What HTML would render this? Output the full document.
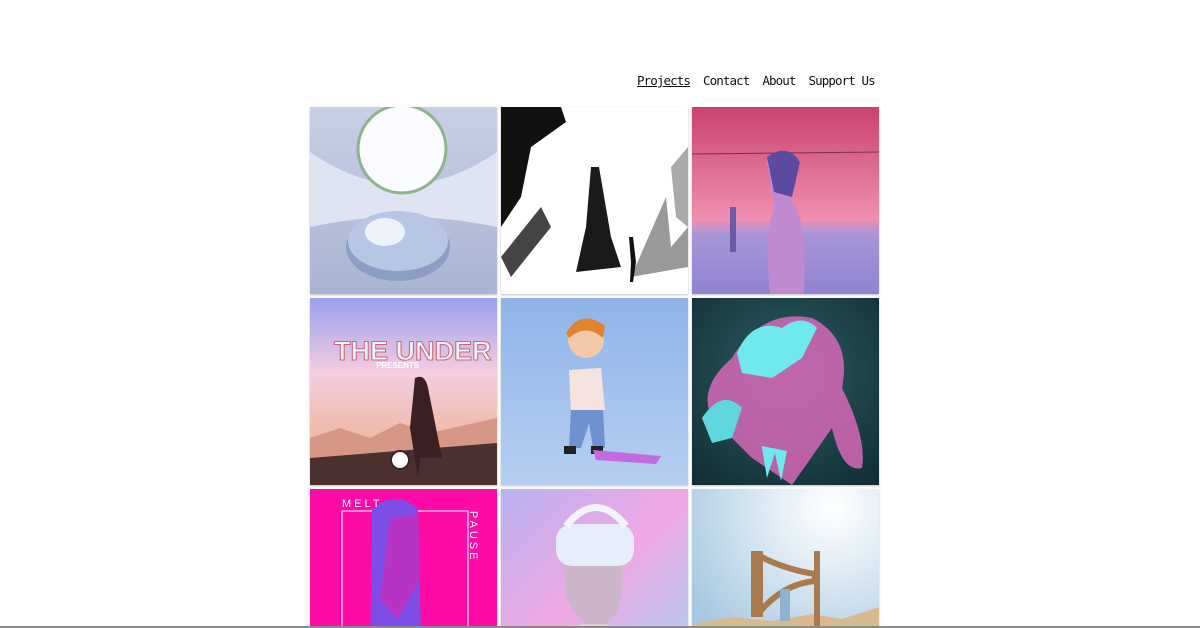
<!DOCTYPE html>
<html><head><meta charset="utf-8"><style>
html,body{margin:0;padding:0;background:#fff;width:1200px;height:628px;overflow:hidden;position:relative}
nav{position:absolute;top:73px;left:637px;font-family:"DejaVu Sans Mono","Liberation Mono",monospace;font-size:12.5px;letter-spacing:-0.9px;line-height:16px;color:#111;white-space:nowrap}
nav a{color:#111;text-decoration:none;margin-right:13px}
nav a.cur{text-decoration:underline}
.t{position:absolute;width:187px;height:187px;overflow:hidden;box-shadow:0 1px 2px rgba(0,0,0,.25)}
.t svg{display:block;width:187px;height:187px}
.bl{position:absolute;left:0;top:626px;width:1200px;height:2px;background:#8a8a8a}
</style></head><body>
<nav><a class="cur">Projects</a><a>Contact</a><a>About</a><a>Support Us</a></nav>

<div class="t" style="left:310px;top:107px"><svg viewBox="0 0 187 187">
<defs><linearGradient id="g1" x1="0" y1="0" x2="0" y2="1"><stop offset="0" stop-color="#c8d0e6"/><stop offset="1" stop-color="#a9b4d2"/></linearGradient></defs>
<rect width="187" height="187" fill="url(#g1)"/>
<path d="M0 45 Q93 110 187 45 L187 120 Q93 100 0 120Z" fill="#dfe4f2"/>
<circle cx="92" cy="42" r="44" fill="#fafcff" stroke="#8fb38a" stroke-width="3"/>
<ellipse cx="88" cy="140" rx="52" ry="34" fill="#8e9dc3"/><ellipse cx="88" cy="134" rx="50" ry="30" fill="#b8c6e6"/>
<ellipse cx="75" cy="125" rx="20" ry="14" fill="#eef2fb"/>
</svg></div>

<div class="t" style="left:501px;top:107px"><svg viewBox="0 0 187 187">
<rect width="187" height="187" fill="#fff"/>
<path d="M0 0 L60 0 L65 15 L30 40 L20 90 L0 120Z" fill="#111"/>
<path d="M90 60 L98 60 L110 130 L120 160 L75 165 L85 120Z" fill="#1a1a1a"/>
<path d="M0 150 L40 100 L50 120 L10 170Z" fill="#444"/>
<path d="M130 170 L165 90 L170 140 L187 120 L187 160Z" fill="#999"/>
<path d="M170 60 L187 40 L187 120 L175 110Z" fill="#aaa"/>
<path d="M128 130 l4 0 l3 25 l-3 20 l-3 0 l1 -20z" fill="#111"/>
</svg></div>

<div class="t" style="left:692px;top:107px"><svg viewBox="0 0 187 187">
<defs><linearGradient id="g3" x1="0" y1="0" x2="0" y2="1"><stop offset="0" stop-color="#c9436e"/><stop offset=".6" stop-color="#f18fb0"/><stop offset=".68" stop-color="#a996d8"/><stop offset="1" stop-color="#8f82d0"/></linearGradient></defs>
<rect width="187" height="187" fill="url(#g3)"/>
<line x1="0" y1="47" x2="187" y2="45" stroke="#7a2f55" stroke-width="1"/>
<path d="M75 55 Q90 40 103 60 L100 95 Q115 110 112 187 L78 187 Q72 130 82 100 Z" fill="#c08ad0"/>
<path d="M75 50 Q95 35 108 55 L100 90 L82 85Z" fill="#5b4ba0"/>
<rect x="38" y="100" width="6" height="45" fill="#6a5aa8"/>
</svg></div>

<div class="t" style="left:310px;top:298px"><svg viewBox="0 0 187 187">
<defs><linearGradient id="g4" x1="0" y1="0" x2="0" y2="1"><stop offset="0" stop-color="#9aa0ee"/><stop offset=".4" stop-color="#f4cde0"/><stop offset=".75" stop-color="#efb9a6"/><stop offset="1" stop-color="#c58a79"/></linearGradient></defs>
<rect width="187" height="187" fill="url(#g4)"/>
<path d="M0 140 L30 130 L60 140 L90 125 L120 135 L187 120 L187 187 L0 187Z" fill="#d69787"/>
<path d="M0 160 L187 145 L187 187 L0 187Z" fill="#4a3130"/>
<text x="24" y="62" font-family="Liberation Sans,sans-serif" font-weight="bold" font-size="27" fill="#e9f6f8" stroke="#d06078" stroke-width="1">THE UNDER</text>
<text x="66" y="70" font-family="Liberation Sans,sans-serif" font-weight="bold" font-size="8" fill="#fff">PRESENTS</text>
<path d="M105 80 Q115 75 118 90 L132 160 L110 160 L108 180 L100 130Z" fill="#3a1f24"/>
<circle cx="90" cy="162" r="9" fill="#fff" stroke="#3a1f24" stroke-width="2"/>
</svg></div>

<div class="t" style="left:501px;top:298px"><svg viewBox="0 0 187 187">
<defs><linearGradient id="g5" x1="0" y1="0" x2="0" y2="1"><stop offset="0" stop-color="#8fb4ea"/><stop offset="1" stop-color="#b6cff1"/></linearGradient></defs>
<rect width="187" height="187" fill="url(#g5)"/>
<circle cx="85" cy="42" r="18" fill="#f3c9aa"/>
<path d="M65 35 Q80 10 104 28 L102 40 Q85 25 68 40Z" fill="#e2822c"/>
<path d="M68 72 L100 70 L104 112 L70 114Z" fill="#f6e3df"/>
<path d="M70 112 L102 112 L104 150 L92 150 L88 125 L80 150 L68 150Z" fill="#6e92cf"/>
<rect x="63" y="148" width="12" height="8" fill="#222"/><rect x="90" y="148" width="12" height="8" fill="#222"/>
<path d="M92 152 L160 158 L155 166 L95 162Z" fill="#c26adf"/>
</svg></div>

<div class="t" style="left:692px;top:298px"><svg viewBox="0 0 187 187">
<defs><radialGradient id="g6" cx=".5" cy=".4" r=".8"><stop offset="0" stop-color="#2d5d63"/><stop offset="1" stop-color="#0f2b31"/></radialGradient></defs>
<rect width="187" height="187" fill="url(#g6)"/>
<path d="M40 60 Q70 10 120 20 Q160 40 150 90 Q175 140 170 170 Q150 175 140 130 L100 187 L60 160 L20 120 Q5 90 40 60Z" fill="#d768b8" opacity=".85"/>
<path d="M45 55 Q60 20 90 30 Q110 15 125 30 L110 60 L80 80 L50 75Z" fill="#6fe9ee"/>
<path d="M10 120 Q30 90 50 110 L40 140 L20 145Z" fill="#5fd7de"/>
<path d="M70 150 l5 30 l8 -25 l6 28 l6 -30 l-25 -5Z" fill="#6fe9ee"/>
</svg></div>

<div class="t" style="left:310px;top:489px;height:137px"><svg viewBox="0 0 187 187">
<rect width="187" height="187" fill="#fc0ca4"/>
<rect x="32" y="22" width="126" height="165" fill="none" stroke="#fff" stroke-width="1"/>
<path d="M62 20 Q85 0 108 20 L112 187 L60 187Z" fill="#7e4ce6"/>
<path d="M80 30 L108 25 L110 90 L88 130 L70 110Z" fill="#d02ab5" opacity=".7"/>
<text x="32" y="18" font-family="Liberation Sans,sans-serif" font-size="11" letter-spacing="3" fill="#fff">MELT</text>
<text x="160" y="22" font-family="Liberation Sans,sans-serif" font-size="11" letter-spacing="3" fill="#fff" transform="rotate(90 160 22)">PAUSE</text>
</svg></div>

<div class="t" style="left:501px;top:489px;height:137px"><svg viewBox="0 0 187 187">
<defs><linearGradient id="g8" x1="0" y1="0" x2="1" y2="1"><stop offset="0" stop-color="#b8b2f0"/><stop offset=".5" stop-color="#f0a8e4"/><stop offset="1" stop-color="#a9d0f5"/></linearGradient></defs>
<rect width="187" height="187" fill="url(#g8)"/>
<path d="M65 70 Q60 110 75 125 L88 140 L100 140 L115 125 Q125 100 120 70Z" fill="#cdb5c9"/>
<path d="M50 187 Q55 140 80 135 L105 135 Q140 150 150 187Z" fill="#e7c8d8"/>
<rect x="55" y="35" width="78" height="42" rx="16" fill="#e6eefc"/>
<path d="M65 37 Q95 0 125 37" fill="none" stroke="#f0f4fc" stroke-width="7"/>
</svg></div>

<div class="t" style="left:692px;top:489px;height:137px"><svg viewBox="0 0 187 187">
<defs><radialGradient id="g9" cx=".75" cy=".1" r=".9"><stop offset="0" stop-color="#ffffff"/><stop offset=".3" stop-color="#e6f0f7"/><stop offset="1" stop-color="#a6c8e0"/></radialGradient></defs>
<rect width="187" height="187" fill="url(#g9)"/>
<path d="M0 135 L40 128 L80 132 L120 125 L150 130 L187 118 L187 187 L0 187Z" fill="#d9b98f"/>
<rect x="0" y="140" width="187" height="47" fill="#e0bf92"/>
<path d="M62 65 L68 65 L68 125 L62 125Z M64 65 Q90 80 123 85 L123 92 Q90 95 66 125" fill="none" stroke="#a87a4e" stroke-width="6"/>
<rect x="122" y="62" width="6" height="125" fill="#a87a4e"/>
<rect x="88" y="100" width="10" height="32" fill="#8fb2cf"/>
</svg></div>
<div class="bl"></div>
</body></html>
